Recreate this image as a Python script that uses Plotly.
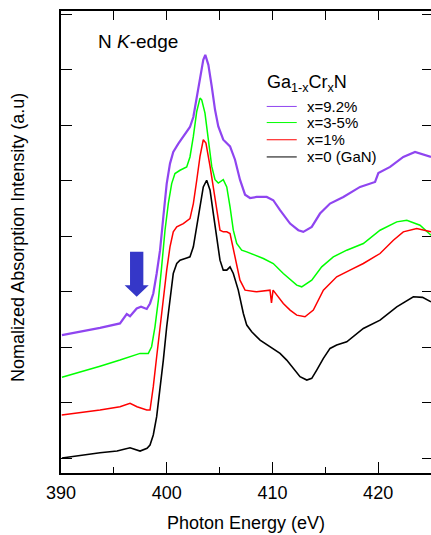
import plotly.graph_objects as go

# N K-edge XANES spectra of Ga(1-x)Cr(x)N, offset vertically (arb. units)
energy_gan = [390.09, 392.08, 393.69, 395.30, 396.53, 397.48, 398.14, 398.42, 398.73, 399.05,
              399.37, 399.68, 400.00, 400.31, 400.62, 400.95, 401.26, 401.89, 402.20, 402.52,
              402.84, 403.15, 403.46, 403.78, 404.10, 404.41, 404.73, 405.04, 405.35, 405.68,
              405.99, 406.30, 406.77, 407.25, 407.57, 408.04, 408.83, 409.77, 410.72, 411.35,
              411.98, 412.61, 413.25, 413.72, 414.19, 414.82, 415.45, 416.08, 417.03, 417.98,
              418.60, 420.18, 421.76, 423.33, 424.20, 425.0]
int_gan = [0.005, 0.06, 0.10, 0.13, 0.19, 0.13, 0.18, 0.24, 0.42, 0.75,
           1.23, 1.77, 2.37, 2.91, 3.33, 3.51, 3.57, 3.61, 3.63, 3.81,
           4.17, 4.59, 4.89, 5.01, 4.83, 4.41, 3.93, 3.57, 3.39, 3.39,
           3.45, 3.33, 3.03, 2.61, 2.40, 2.28, 2.13, 2.01, 1.89, 1.77,
           1.62, 1.47, 1.41, 1.44, 1.59, 1.80, 1.98, 2.04, 2.10, 2.25,
           2.34, 2.49, 2.73, 2.91, 2.90, 2.82]

energy_1 = [390.07, 391.80, 393.69, 395.58, 396.53, 397.19, 398.11, 398.42, 398.73, 399.05,
            399.37, 399.68, 400.00, 400.31, 400.62, 400.95, 401.57, 402.20, 402.52, 402.84,
            403.15, 403.46, 403.71, 404.10, 404.41, 404.73, 405.04, 405.35, 405.68, 405.99,
            406.46, 406.93, 407.41, 408.51, 409.77, 409.91, 410.06, 411.03, 411.67, 412.30,
            413.08, 413.87, 414.82, 416.08, 417.34, 418.60, 420.18, 421.44, 422.38, 423.65,
            425.0]
int_1 = [0.78, 0.82, 0.87, 0.93, 0.99, 0.93, 0.87, 0.87, 1.29, 1.83,
         2.37, 2.85, 3.39, 3.81, 4.08, 4.17, 4.23, 4.32, 4.59, 5.01,
         5.44, 5.74, 5.68, 5.26, 4.89, 4.47, 4.11, 4.08, 4.08, 4.05,
         3.63, 3.21, 3.03, 3.00, 3.03, 2.80, 3.03, 2.79, 2.67, 2.58,
         2.55, 2.67, 3.03, 3.27, 3.39, 3.51, 3.69, 3.93, 4.08, 4.14,
         4.08]

energy_35 = [390.09, 391.80, 393.69, 395.58, 396.53, 397.48, 398.26, 398.57, 398.89, 399.21,
             399.52, 399.84, 400.15, 400.47, 400.78, 401.26, 401.89, 402.20, 402.52, 402.84,
             403.15, 403.31, 403.62, 403.94, 404.26, 404.57, 404.88, 405.35, 405.68, 405.99,
             406.30, 406.62, 407.09, 407.57, 409.14, 410.08, 411.03, 412.30, 412.77, 413.72,
             414.66, 415.76, 417.03, 418.60, 420.18, 421.76, 422.71, 423.96, 425.0]
int_35 = [1.46, 1.55, 1.66, 1.77, 1.83, 1.89, 1.89, 2.01, 2.37, 2.85,
          3.45, 4.11, 4.59, 4.95, 5.13, 5.19, 5.25, 5.43, 5.80, 6.25,
          6.49, 6.46, 6.22, 5.74, 5.26, 5.02, 4.96, 5.02, 4.89, 4.53,
          4.11, 3.87, 3.75, 3.72, 3.60, 3.51, 3.33, 3.12, 3.09, 3.21,
          3.45, 3.63, 3.75, 3.87, 4.11, 4.26, 4.29, 4.20, 4.02]

energy_92 = [390.09, 391.80, 393.69, 395.58, 396.22, 396.53, 397.16, 397.57, 398.11, 398.42,
             398.73, 399.05, 399.37, 399.68, 400.00, 400.31, 400.62, 401.10, 401.73, 402.20,
             402.52, 402.84, 403.15, 403.46, 403.65, 403.94, 404.26, 404.57, 404.88, 405.35,
             405.99, 406.46, 406.93, 407.41, 407.88, 408.51, 409.46, 410.08, 410.72, 411.67,
             412.45, 412.92, 413.72, 414.50, 415.45, 416.71, 418.29, 419.71, 420.02, 421.13,
             422.38, 423.49, 425.0]
int_92 = [2.22, 2.28, 2.35, 2.43, 2.60, 2.56, 2.70, 2.73, 2.69, 2.79,
          2.97, 3.33, 3.75, 4.35, 4.95, 5.31, 5.52, 5.67, 5.83, 5.97,
          6.15, 6.51, 6.88, 7.18, 7.27, 7.09, 6.70, 6.28, 5.98, 5.74,
          5.62, 5.38, 5.02, 4.75, 4.69, 4.71, 4.71, 4.65, 4.47, 4.23,
          4.11, 4.08, 4.17, 4.41, 4.59, 4.71, 4.89, 4.98, 5.14, 5.25,
          5.43, 5.52, 5.43]

series_names = ["x=9.2%", "x=3-5%", "x=1%", "x=0 (GaN)"]
series_colors = ["#8F45F0", "#00FF00", "#FF0000", "#000000"]
series_widths = [2.2, 1.5, 1.5, 1.6]
series_x = [energy_92, energy_35, energy_1, energy_gan]
series_y = [int_92, int_35, int_1, int_gan]

x_range = [390, 425]
y_range = [-0.265, 8.06]
FONT = "Liberation Sans, Arial, sans-serif"

fig = go.Figure()
for name, xs, ys, col, w in zip(series_names, series_x, series_y, series_colors, series_widths):
    fig.add_trace(go.Scatter(x=xs, y=ys, mode="lines", name=name,
                             line=dict(color=col, width=w), showlegend=False))

# hand-built legend block
leg_x0, leg_x1, leg_tx = 409.46, 412.30, 413.1
leg_rows = [6.34, 6.05, 5.74, 5.43]
annotations = [
    dict(x=409.3, y=6.76, xref="x", yref="y", text="Ga<sub>1-x</sub>Cr<sub>x</sub>N",
         showarrow=False, xanchor="left", yanchor="middle", font=dict(size=18)),
    dict(x=0.094, y=0.9335, xref="paper", yref="paper", text="N <i>K</i>-edge",
         showarrow=False, xanchor="left", yanchor="middle", font=dict(size=19)),
    dict(x=-0.116, y=0.509, xref="paper", yref="paper",
         text="Nomalized Absorption Intensity (a.u)", textangle=-90,
         showarrow=False, xanchor="center", yanchor="middle", font=dict(size=18)),
]
shapes = []
for name, col, yy in zip(series_names, series_colors, leg_rows):
    shapes.append(dict(type="line", xref="x", yref="y", x0=leg_x0, x1=leg_x1, y0=yy, y1=yy,
                       line=dict(color=col, width=1)))
    annotations.append(dict(x=leg_tx, y=yy, xref="x", yref="y", text=name, showarrow=False,
                            xanchor="left", yanchor="middle", font=dict(size=15)))

# block arrow marking the pre-edge feature
ax, hw_s, hw_h = 397.16, 0.63, 1.14
y_top, y_neck, y_tip = 3.72, 3.12, 2.91
shapes.append(dict(
    type="path", xref="x", yref="y", fillcolor="#3537C8", line=dict(width=0),
    path=(f"M {ax-hw_s} {y_top} L {ax+hw_s} {y_top} L {ax+hw_s} {y_neck} "
          f"L {ax+hw_h} {y_neck} L {ax} {y_tip} L {ax-hw_h} {y_neck} "
          f"L {ax-hw_s} {y_neck} Z")))

fig.update_layout(
    width=431, height=535,
    margin=dict(l=61, r=0, t=11, b=62),
    paper_bgcolor="white", plot_bgcolor="white",
    font=dict(family=FONT, size=18, color="black"),
    annotations=annotations, shapes=shapes,
    xaxis=dict(range=x_range, dtick=10, tick0=390, ticks="inside", ticklen=11, tickwidth=1.2,
               tickcolor="black", showline=True, linecolor="black", linewidth=1.5,
               showgrid=False, zeroline=False, tickfont=dict(size=18),
               ticklabelstandoff=3,
               minor=dict(dtick=5, tick0=390, ticks="inside", ticklen=6, tickwidth=1.2,
                          tickcolor="black", showgrid=False),
               title=dict(text="Photon Energy (eV)", font=dict(size=18), standoff=14)),
    xaxis2=dict(range=x_range, overlaying="x", side="top", anchor="y", dtick=5, tick0=390,
                ticks="inside", ticklen=9, tickwidth=1.2, tickcolor="black",
                showticklabels=False, showline=True, linecolor="black", linewidth=1.5,
                showgrid=False, zeroline=False),
    yaxis=dict(range=y_range, dtick=1, tick0=0, ticks="inside", ticklen=11, tickwidth=1.2,
               tickcolor="black", showticklabels=False, showline=True, linecolor="black",
               linewidth=1.5, showgrid=False, zeroline=False),
    yaxis2=dict(range=y_range, overlaying="y", side="right", anchor="x", dtick=1, tick0=0,
                ticks="inside", ticklen=9, tickwidth=1.2, tickcolor="black",
                showticklabels=False, showline=False, showgrid=False, zeroline=False),
)
# empty trace on the mirrored axes so the top/right ticks are drawn
fig.add_trace(go.Scatter(x=[], y=[], xaxis="x2", yaxis="y2", showlegend=False))

fig.write_html("out.html")
